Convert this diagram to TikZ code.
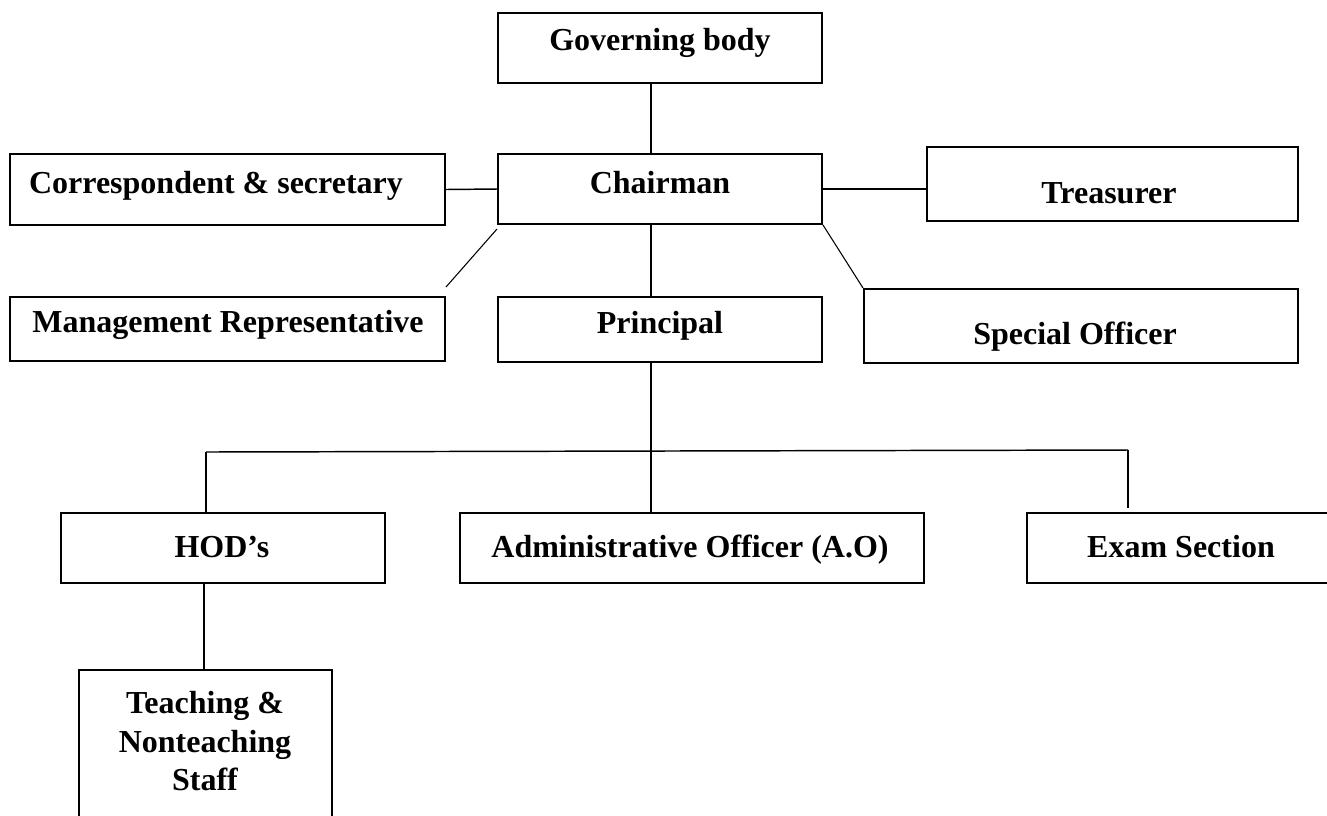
\documentclass[tikz,border=0pt]{standalone}
\usepackage{fontspec}
\setmainfont{Liberation Serif}
\usetikzlibrary{fit,calc}
\tikzset{
  box/.style={draw, line width=1.5pt, inner sep=0pt, rectangle},
  lbl/.style={anchor=base, inner sep=0pt, font=\fontsize{24}{28.5}\selectfont\bfseries},
  conn/.style={line width=1.1pt},
  diag/.style={line width=0.8pt},
}
\begin{document}
\begin{tikzpicture}[x=0.75pt, y=-0.75pt]
\useasboundingbox (0,0) rectangle (1327,815);
\clip (0,0) rectangle (1327,815);
% boxes
\node[box, fit={(498,13) (822,83)}] (gb) {};
\node[box, fit={(498,154) (822,224)}] (ch) {};
\node[box, fit={(10,154) (445,225)}] (cs) {};
\node[box, fit={(10,297) (445,361)}] (mr) {};
\node[box, fit={(498,297) (822,362)}] (pr) {};
\node[box, fit={(927,147) (1298,221)}] (tr) {};
\node[box, fit={(864,289) (1298,363)}] (so) {};
\node[box, line width=1.2pt, fit={(61,513) (385,583)}] (hod) {};
\node[box, line width=1.2pt, fit={(460,513) (924,583)}] (ao) {};
\node[box, line width=1.2pt, fit={(1027,513) (1345,583)}] (ex) {};
\node[box, line width=1.2pt, fit={(79,670) (332,840)}] (ts) {};
% labels
\node[lbl] (gbt) at (660,50) {Governing body};
\node[lbl] (cht) at (660,193) {Chairman};
\node[lbl] (cst) at (216,193) {Correspondent \& secretary};
\node[lbl] (mrt) at (228,332) {Management Representative};
\node[lbl] (prt) at (660,333) {Principal};
\node[lbl] (trt) at (1109,203) {Treasurer};
\node[lbl] (sot) at (1075,344) {Special Officer};
\node[lbl] (hodt) at (222,557) {HOD’s};
\node[lbl] (aot) at (690,557) {Administrative Officer (A.O)};
\node[lbl] (ext) at (1181,557) {Exam Section};
\node[lbl] (tst1) at (205,713) {Teaching \&};
\node[lbl] (tst2) at (205,752) {Nonteaching};
\node[lbl] (tst3) at (205,790) {Staff};
% coordinates
\coordinate (spine) at (651,0);
\coordinate (jl) at (206,452);
\coordinate (jm) at (651,451);
\coordinate (jr) at (1128,450);
\coordinate (hodx) at (204,0);
% connectors
\draw[conn] (gb.south -| spine) -- (ch.north -| spine);
\draw[conn] (cs.east) -- (ch.west);
\draw[conn] (ch.east) -- (ch.east -| tr.west);
\draw[diag] ($(ch.south west)+(0,4)$) -- ($(mr.north east)+(0,-9)$);
\draw[diag] (ch.south east) -- (so.north west);
\draw[conn] (ch.south -| spine) -- (pr.north -| spine);
\draw[conn] (pr.south -| spine) -- (jm);
\draw[conn] (jl) -- (jr);
\draw[conn] (jl) -- (hod.north -| jl);
\draw[conn] (jm) -- (ao.north -| jm);
\draw[conn] (jr) -- ($(ex.north -| jr)+(0,-4)$);
\draw[conn] (hod.south -| hodx) -- (ts.north -| hodx);
\end{tikzpicture}
\end{document}
